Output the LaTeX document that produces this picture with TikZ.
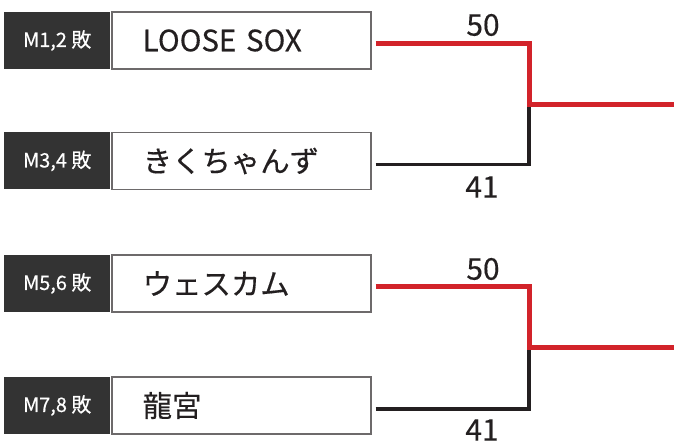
\documentclass[tikz,border=0pt]{standalone}
\usepackage{fontspec}
\setmainfont{Noto Sans CJK JP}[FakeBold=0.4]
\definecolor{tagdark}{HTML}{333333}
\definecolor{boxgray}{HTML}{6D6A6B}
\definecolor{inkdark}{HTML}{231F20}
\definecolor{winred}{HTML}{D2232A}
\begin{document}
\begin{tikzpicture}[x=1bp,y=-1bp,
  tag/.style={fill=tagdark, text=white, minimum width=106bp, minimum height=57bp,
    inner sep=0pt, anchor=west, font=\fontsize{20}{20}\selectfont},
  namebox/.style={draw=boxgray, line width=1.5bp, fill=white, minimum height=57bp,
    inner xsep=31bp, inner ysep=0pt, text width=197bp, align=left, anchor=west,
    text=inkdark, font=\fontsize{29.5}{30}\selectfont},
  score/.style={text=inkdark, inner sep=0pt, font=\fontsize{30}{30}\selectfont},
  winline/.style={draw=winred, line width=5bp},
  loseline/.style={draw=inkdark, line width=3.5bp}]
\useasboundingbox (0,0) rectangle (674,443);

% top group
\node[tag] (t1) at (4,40.5) {M1,2 敗};
\node[namebox] (b1) at (111,40.5) {LOOSE SOX};
\node[tag] (t2) at (4,161) {M3,4 敗};
\node[namebox] (b2) at (111,161) {きくちゃんず};
% bottom group
\node[tag] (t3) at (4,283.5) {M5,6 敗};
\node[namebox] (b3) at (111,283.5) {ウェスカム};
\node[tag] (t4) at (4,405.5) {M7,8 敗};
\node[namebox] (b4) at (111,405.5) {龍宮};

% connector points
\coordinate (s1) at ([xshift=4bp,yshift=-3.5bp]b1.east);
\coordinate (s2) at ([xshift=4bp,yshift=-3.5bp]b2.east);
\coordinate (s3) at ([xshift=4bp,yshift=-3.5bp]b3.east);
\coordinate (s4) at ([xshift=4bp,yshift=-3.5bp]b4.east);
\coordinate (j1) at (529,104.5);
\coordinate (j2) at (529,347.5);
\coordinate (e1) at (674,104.5);
\coordinate (e2) at (674,347.5);

\draw[loseline] (s2) -| (j1);
\draw[winline] (s1) -| (j1) -- (e1);
\draw[loseline] (s4) -| (j2);
\draw[winline] (s3) -| (j2) -- (e2);

\node[score] (sc1) at (483,25) {50};
\node[score] (sc2) at (482,187) {41};
\node[score] (sc3) at (483,269) {50};
\node[score] (sc4) at (482,430) {41};
\end{tikzpicture}
\end{document}
